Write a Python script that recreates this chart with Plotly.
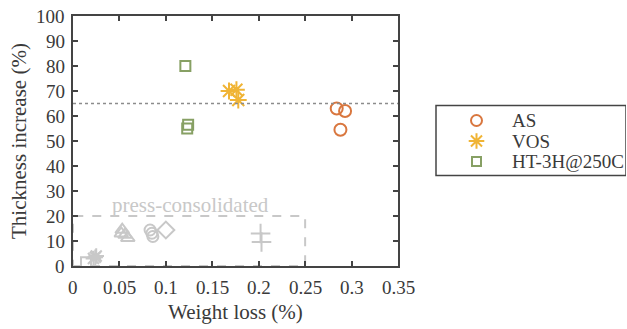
import plotly.graph_objects as go

# ---- data ----
as_x = [0.284, 0.293, 0.288]
as_y = [63.0, 62.0, 54.5]
vos_x = [0.168, 0.176, 0.178]
vos_y = [70.0, 70.5, 66.4]
ht_x = [0.121, 0.124, 0.123]
ht_y = [80.0, 56.5, 55.0]

# press-consolidated (gray) groups
pc_sq_x = [0.014]
pc_sq_y = [1.5]
pc_st_x = [0.022, 0.025, 0.024]
pc_st_y = [3.0, 4.0, 3.5]
pc_tri_x = [0.053, 0.056, 0.059, 0.052]
pc_tri_y = [14.5, 12.5, 11.2, 13.0]
pc_ci_x = [0.083, 0.085, 0.086]
pc_ci_y = [14.4, 13.1, 11.8]
pc_di_x = [0.1]
pc_di_y = [14.4]
pc_pl_x = [0.202, 0.203]
pc_pl_y = [13.0, 9.6]

threshold_y = 65
region_x = [0, 0.25]
region_y = [0, 20]

x_ticks = [0, 0.05, 0.1, 0.15, 0.2, 0.25, 0.3, 0.35]
x_labels = ["0", "0.05", "0.1", "0.15", "0.2", "0.25", "0.3", "0.35"]
y_ticks = list(range(0, 101, 10))
y_labels = [str(v) for v in y_ticks]

legend_names = ["AS", "VOS", "HT-3H@250C"]
x_title = "Weight loss (%)"
y_title = "Thickness increase (%)"

FONT = "Liberation Serif"
TXT = "#3a3a3a"
AX = "#444444"
GRAY = "#c8c8c8"
C_AS = "#D9773F"
C_VOS = "#F0B435"
C_HT = "#87A064"

W, H = 627, 329
ML, MR, MT, MB = 73, 1, 16, 63
PW = W - ML - MR
PH = H - MT - MB
plot_right = 398

fig = go.Figure()

def gray(x, y, sym, size=11):
    fig.add_trace(go.Scatter(x=x, y=y, mode="markers", showlegend=False,
                             marker=dict(symbol=sym, size=size, color=GRAY,
                                         line=dict(color=GRAY, width=2))))

gray(pc_sq_x, pc_sq_y, "square-open", 10)
gray(pc_st_x, pc_st_y, "asterisk-open", 13)
gray(pc_tri_x, pc_tri_y, "triangle-up-open", 12)
gray(pc_ci_x, pc_ci_y, "circle-open", 11)
gray(pc_di_x, pc_di_y, "diamond-open", 13)
gray(pc_pl_x, pc_pl_y, "cross-thin-open", 14)

series = [
    (as_x, as_y, "circle-open", 12, C_AS),
    (vos_x, vos_y, "asterisk-open", 14, C_VOS),
    (ht_x, ht_y, "square-open", 10, C_HT),
]
for (sx, sy, sym, sz, col), name in zip(series, legend_names):
    fig.add_trace(go.Scatter(x=sx, y=sy, mode="markers", name=name, showlegend=False,
                             marker=dict(symbol=sym, size=sz, color=col,
                                         line=dict(color=col, width=2))))

def txt(text, size=19, color=TXT, **kw):
    fig.add_annotation(text=text, showarrow=False,
                       font=dict(family=FONT, size=size, color=color), **kw)

# manual legend on a pixel-coordinate axis pair
leg_left, leg_right, leg_top, leg_bot = 436, 626, 105.5, 175.5
row_y = [120.5, 141.0, 161.5]
mark_x = 476.5
text_x = 510
for (sx, sy, sym, sz, col), name, ry in zip(series, legend_names, row_y):
    fig.add_trace(go.Scatter(x=[mark_x], y=[ry], mode="markers", xaxis="x2", yaxis="y2",
                             showlegend=False, cliponaxis=False,
                             marker=dict(symbol=sym, size=sz - 1, color=col,
                                         line=dict(color=col, width=2))))
    txt(name, x=text_x, y=ry, xref="x2", yref="y2", xanchor="left", yanchor="middle")
fig.add_shape(type="rect", xref="x2", yref="y2", x0=leg_left, x1=leg_right,
              y0=leg_top, y1=leg_bot, line=dict(color=AX, width=1.5))

# tick labels and axis titles as serif annotations
for v, lab in zip(x_ticks, x_labels):
    txt(lab, x=v, y=0, xref="x", yref="paper", xanchor="center", yanchor="middle", yshift=-21)
for v, lab in zip(y_ticks, y_labels):
    txt(lab, x=0, y=v, xref="paper", yref="y", xanchor="right", yanchor="middle", xshift=-6)
txt(x_title, size=21, x=0.175, y=0, xref="x", yref="paper", xanchor="center",
    yanchor="middle", yshift=-46)
txt(y_title, size=21, x=0, y=50, xref="paper", yref="y", xanchor="center",
    yanchor="middle", xshift=-54, textangle=-90)

# threshold dotted line
fig.add_shape(type="line", xref="x", yref="y", x0=0, x1=0.35, y0=threshold_y, y1=threshold_y,
              line=dict(color="#8c8c8c", width=1.5, dash="dot"))
# press-consolidated dashed region
fig.add_shape(type="rect", xref="x", yref="y", x0=region_x[0], x1=region_x[1],
              y0=region_y[0], y1=region_y[1],
              line=dict(color=GRAY, width=2, dash="dash"), layer="below")
txt("press-consolidated", size=21, color=GRAY, x=0.127, y=24.5, xref="x", yref="y")

fig.update_layout(
    width=W, height=H,
    margin=dict(l=ML, r=MR, t=MT, b=MB, autoexpand=False),
    paper_bgcolor="white", plot_bgcolor="rgba(0,0,0,0)",
    font=dict(family=FONT, size=19, color=TXT),
    showlegend=False,
    xaxis=dict(domain=[0, (plot_right - ML) / PW], range=[0, 0.35],
               tickvals=x_ticks, showticklabels=False,
               showgrid=False, zeroline=False, showline=True, linecolor=AX, linewidth=1.5,
               mirror="ticks", ticks="inside", ticklen=5, tickcolor=AX, tickwidth=1.5),
    yaxis=dict(domain=[0, 1], range=[0, 100], tickvals=y_ticks, showticklabels=False,
               showgrid=False, zeroline=False, showline=True, linecolor=AX, linewidth=1.5,
               mirror="ticks", ticks="inside", ticklen=5, tickcolor=AX, tickwidth=1.5),
    xaxis2=dict(domain=[(leg_left - 1 - ML) / PW, 1.0], range=[leg_left - 1, W - MR],
                visible=False, fixedrange=True, anchor="y2"),
    yaxis2=dict(domain=[(H - MB - (leg_bot + 2)) / PH, (H - MB - (leg_top - 2)) / PH],
                range=[leg_bot + 2, leg_top - 2],
                visible=False, fixedrange=True, anchor="x2"),
)

fig.write_html("out.html")
